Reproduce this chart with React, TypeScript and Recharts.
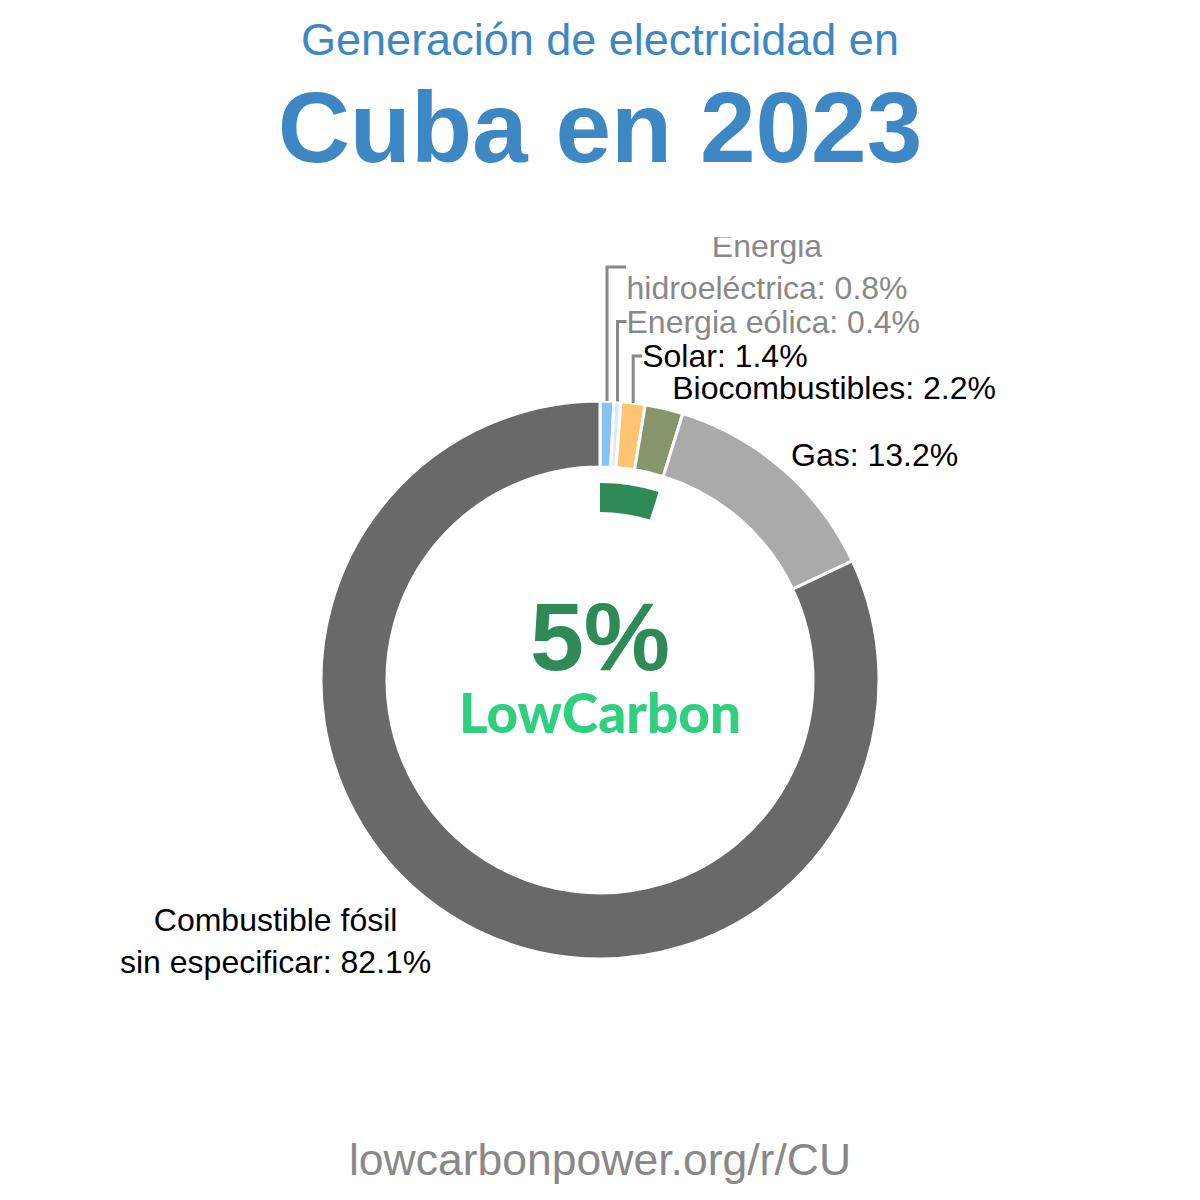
import { PieChart, Pie, Cell } from "recharts";

// generation mix, Cuba 2023 (% of electricity)
const sources = [
  "Energia hidroeléctrica",
  "Energia eólica",
  "Solar",
  "Biocombustibles",
  "Gas",
  "Combustible fósil sin especificar",
];
const shares = [0.8, 0.4, 1.4, 2.2, 13.2, 82.1];
const sliceColors = ["#86c2f6", "#d8ecff", "#fec470", "#87956b", "#aaaaaa", "#696969"];
const labelRows = [
  ["Energia", "hidroeléctrica"],
  ["Energia eólica"],
  ["Solar"],
  ["Biocombustibles"],
  ["Gas"],
  ["Combustible fósil", "sin especificar"],
];
const labelColors = ["#888888", "#888888", "#000000", "#000000", "#000000", "#000000"];

// inner ring: low carbon share vs the rest
const lowCarbonNames = ["LowCarbon", "Resto"];
const lowCarbonShares = [4.8, 95.2];
const lowCarbonColors = ["#2e8b57", "transparent"];

// where each label sits relative to its slice (layout only)
const labelLayout = [
  { dx: 160, dy: -134, anchor: "middle", elbow: 19 },
  { dx: 9, dy: -80, anchor: "start", elbow: 9 },
  { dx: 9, dy: -47, anchor: "start", elbow: 9 },
  { dx: 8, dy: -20, anchor: "start", elbow: 0 },
  { dx: 8, dy: -14, anchor: "start", elbow: 0 },
  { dx: -175, dy: 25, anchor: "middle", elbow: 0 },
];

const mixData = sources.map((name, i) => ({ name, value: shares[i] }));
const innerData = lowCarbonNames.map((name, i) => ({ name, value: lowCarbonShares[i] }));

const RADIAN = Math.PI / 180;
const LABEL_SIZE = 32;
const LINE_GAP = 42;

function renderLabel(props: any) {
  const { cx, cy, midAngle, outerRadius, index, value } = props;
  const ax = cx + outerRadius * Math.cos(-midAngle * RADIAN);
  const ay = cy + outerRadius * Math.sin(-midAngle * RADIAN);
  const lay = labelLayout[index];
  const rows = labelRows[index].slice();
  rows[rows.length - 1] = `${rows[rows.length - 1]}: ${value}%`;
  const ty = ay + lay.dy;
  const firstY = ty - ((rows.length - 1) * LINE_GAP) / 2;
  return (
    <g key={`lbl-${index}`}>
      {lay.elbow > 0 && (
        <polyline
          points={`${ax},${ay} ${ax},${ty} ${ax + lay.elbow},${ty}`}
          fill="none"
          stroke="#888888"
          strokeWidth={3}
        />
      )}
      <text
        x={ax + lay.dx}
        y={firstY}
        textAnchor={lay.anchor}
        dominantBaseline="central"
        fill={labelColors[index]}
        fontSize={LABEL_SIZE}
        fontFamily="'Liberation Sans', Arial, sans-serif"
      >
        {rows.map((r, j) => (
          <tspan key={j} x={ax + lay.dx} dy={j === 0 ? 0 : LINE_GAP}>
            {r}
          </tspan>
        ))}
      </text>
    </g>
  );
}

export default function App() {
  const font = "'Liberation Sans', Arial, sans-serif";
  return (
    <div style={{ position: "absolute", top: 0, left: 0, width: 1200, height: 1200, background: "#fff" }}>
      <svg width={1200} height={1200} style={{ position: "absolute", top: 0, left: 0 }}>
        <text x={600} y={55} textAnchor="middle" fontSize={45} fill="#3d87c4" fontFamily={font}>
          Generación de electricidad en
        </text>
        <text x={600} y={162} textAnchor="middle" fontSize={100} fontWeight="bold" fill="#3d87c4" fontFamily={font}>
          Cuba en 2023
        </text>
        <text x={600} y={1175} textAnchor="middle" fontSize={44.5} fill="#888888" fontFamily={font}>
          lowcarbonpower.org/r/CU
        </text>
      </svg>
      <div style={{ position: "absolute", top: 237, left: 0 }}>
        <PieChart width={1200} height={800} margin={{ top: 0, right: 0, bottom: 0, left: 0 }}>
          <Pie
            data={innerData}
            dataKey="value"
            cx={600}
            cy={443}
            innerRadius={168}
            outerRadius={197}
            startAngle={90}
            endAngle={-270}
            stroke="none"
            isAnimationActive={false}
          >
            {innerData.map((d, i) => (
              <Cell key={d.name} fill={lowCarbonColors[i]} />
            ))}
          </Pie>
          <Pie
            data={mixData}
            dataKey="value"
            cx={600}
            cy={443}
            innerRadius={213}
            outerRadius={279}
            startAngle={90}
            endAngle={-270}
            stroke="#ffffff"
            strokeWidth={3}
            label={renderLabel}
            labelLine={false}
            isAnimationActive={false}
          >
            {mixData.map((d, i) => (
              <Cell key={d.name} fill={sliceColors[i]} />
            ))}
          </Pie>
        </PieChart>
      </div>
      <svg width={1200} height={1200} style={{ position: "absolute", top: 0, left: 0, pointerEvents: "none" }}>
        <text x={600} y={670} textAnchor="middle" fontSize={97} fontWeight="bold" fill="#2e8b57" fontFamily={font}>
          5%
        </text>
        <text
          x={600}
          y={733}
          textAnchor="middle"
          fontSize={56}
          fontWeight={900}
          fill="#2ecf7e"
          fontFamily="Lato, 'Noto Sans', sans-serif"
          textLength={282}
          lengthAdjust="spacingAndGlyphs"
        >
          LowCarbon
        </text>
      </svg>
    </div>
  );
}
